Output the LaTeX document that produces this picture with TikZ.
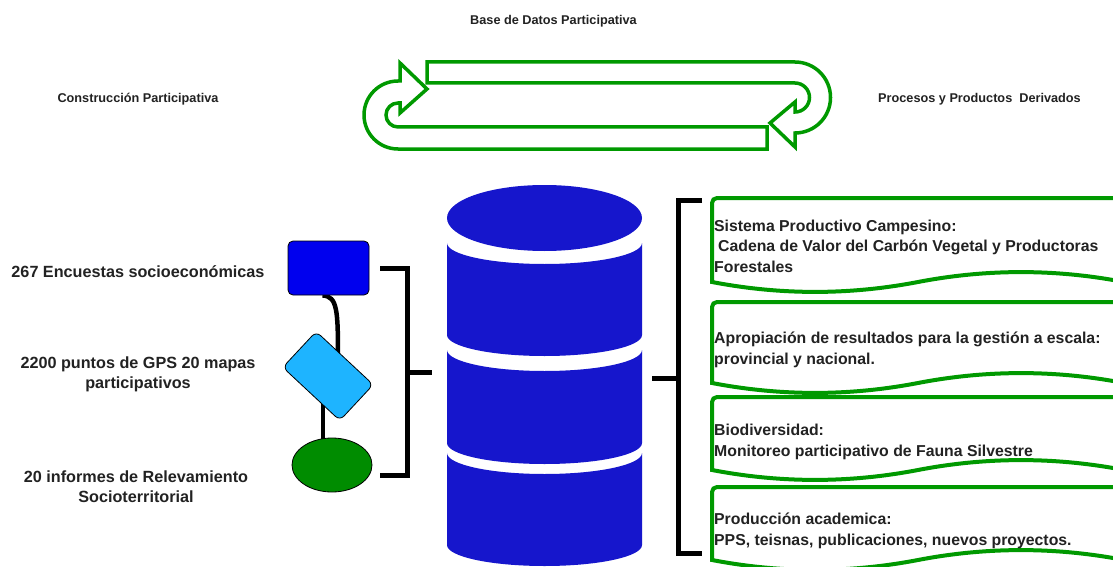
\documentclass[tikz,border=0pt]{standalone}
\usepackage{fontspec}
\setmainfont{Liberation Sans}
\usetikzlibrary{shapes.geometric}
\pgfdeclarelayer{bg}
\pgfsetlayers{bg,main}
\definecolor{cgreen}{RGB}{0,153,0}
\definecolor{cylblue}{RGB}{22,22,204}
\definecolor{rectblue}{RGB}{0,0,238}
\definecolor{skyb}{RGB}{30,180,255}
\definecolor{ellgreen}{RGB}{0,140,0}
\definecolor{txt}{RGB}{34,34,34}
\newcommand\docbox[2]{%
  \draw[doc] (712,#1+#2) [rounded corners=5pt] -- (712,#1) -- (1124,#1) [sharp corners] -- (1124,#1+#2)
    .. controls (1055.3,#1+#2-13.2) and (986.7,#1+#2-13.2) .. (918,#1+#2)
    .. controls (849.3,#1+#2+13.2) and (780.7,#1+#2+13.2) .. (712,#1+#2) -- cycle;}
\newcommand\cylseg[2]{%
  \fill[cylblue] (447,#1) arc[start angle=180, end angle=0, x radius=97.5, y radius=21]
    -- (642,#2) arc[start angle=0, end angle=180, x radius=97.5, y radius=21] -- cycle;}
\begin{document}
\begin{tikzpicture}[x=1pt,y=-1pt,
  toplabel/.style={font=\fontsize{12.7}{15}\selectfont\bfseries, text=txt, inner sep=0pt, anchor=base},
  leftlabel/.style={font=\fontsize{16.2}{20}\selectfont\bfseries, align=center, inner sep=0pt, anchor=base, text=txt},
  boxtext/.style={font=\fontsize{15.8}{20.5}\selectfont\bfseries, align=left, inner sep=0pt, anchor=base west, text=txt},
  cyc/.style={draw=cgreen, line width=3.5pt, fill=white, line join=miter},
  doc/.style={draw=cgreen, line width=4pt, fill=white},
  bracket/.style={line width=5pt},
  link/.style={line width=4.5pt},
  shapeborder/.style={draw=black, line width=0.8pt, inner sep=0pt}]
\useasboundingbox (0,0) rectangle (1113,567);
\begin{pgfonlayer}{bg}
\fill[white] (0,0) rectangle (1113,567);
\end{pgfonlayer}
\clip (0,0) rectangle (1113,567);

% top labels
\node[toplabel] (base) at (553.5,25) {Base de Datos Participativa};
\node[toplabel] (cons) at (138,103) {Construcción Participativa};
\node[toplabel] (proc) at (979.5,103) {Procesos y Productos\ \ Derivados};

% cycle arrows
\draw[cyc] (427,62) -- (795,62) arc[start angle=-90, end angle=90, radius=35.5]
  -- (795,147) -- (770,123) -- (795,102) -- (795,112)
  arc[start angle=90, end angle=-90, radius=14.5] -- (427,83) -- cycle;
\draw[cyc] (767,127) -- (767,149) -- (398,149) arc[start angle=90, end angle=270, radius=34]
  -- (400,81) -- (400,63) -- (427,89) -- (400,113) -- (400,103) -- (398,103)
  arc[start angle=270, end angle=90, radius=12] -- cycle;

% left labels (base anchor = last line)
\node[leftlabel] (l1) at (138,277) {267 Encuestas socioeconómicas};
\node[leftlabel] (l2) at (138,388) {2200 puntos de GPS 20 mapas\\participativos};
\node[leftlabel] (l3) at (136,502) {20 informes de Relevamiento\\Socioterritorial};

% left shapes
\node[shapeborder, fill=rectblue, rounded corners=5pt, minimum width=81pt, minimum height=54pt] (enc) at (328.5,268) {};
\node[shapeborder, fill=skyb, rounded corners=6pt, minimum width=78pt, minimum height=49pt, rotate=-43] (gps) at (328,376) {};
\node[shapeborder, ellipse, fill=ellgreen, minimum width=80pt, minimum height=54pt] (inf) at (332,465) {};
\begin{pgfonlayer}{bg}
\draw[link] ([xshift=-6pt]enc.south) .. controls +(15,1) and +(0,-50) .. ([shift={(10,-16)}]gps.center);
\draw[link] ([shift={(-5,20)}]gps.center) -- ([shift={(-9,3)}]inf.north);
\end{pgfonlayer}

% left bracket
\coordinate (lbt) at (380,268);
\coordinate (lbb) at (380,475);
\draw[bracket] (lbt) -- (407,268) -- (407,475) -- (lbb);
\draw[bracket] (407,372) -- (432,372);

% cylinder
\fill[cylblue] (544.5,218) ellipse[x radius=97.5, y radius=33];
\cylseg{243}{335}
\cylseg{350}{443}
\cylseg{453}{545}

% right bracket
\coordinate (rbt) at (702,200);
\coordinate (rbb) at (702,553);
\draw[bracket] (rbt) -- (678,200) -- (678,553) -- (rbb);
\draw[bracket] (652,378) -- (678,378);

% document boxes
\docbox{198}{84}
\docbox{302}{81}
\docbox{397}{73}
\docbox{487}{73}

\node[boxtext] (t1) at (714,272) {Sistema Productivo Campesino:\\\hspace*{4pt}Cadena de Valor del Carbón Vegetal y Productoras\\Forestales};
\node[boxtext] (t2) at (714,364) {Apropiación de resultados para la gestión a escala:\\provincial y nacional.};
\node[boxtext] (t3) at (714,456) {Biodiversidad:\\Monitoreo participativo de Fauna Silvestre};
\node[boxtext] (t4) at (714,545) {Producción academica:\\PPS, teisnas, publicaciones, nuevos proyectos.};
\end{tikzpicture}
\end{document}
